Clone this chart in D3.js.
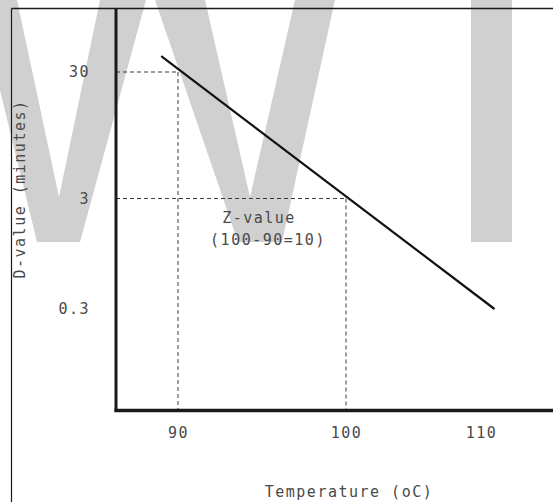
<!DOCTYPE html>
<html>
<head>
<meta charset="utf-8">
<script src="https://cdn.jsdelivr.net/npm/d3@7"></script>
<style>
  html, body { margin: 0; padding: 0; background: #fff; }
  svg { display: block; }
  text {
    font-family: "DejaVu Sans Mono", monospace;
    font-size: 15px;
    fill: #4a4a4a;
    letter-spacing: 1.5px;
  }
</style>
</head>
<body>
<script>
// Thermal death time curve: D-value against temperature, with the Z-value example
const tempTicks = [90, 100, 110];
const dTicks = [30, 3, 0.3];
const dTickLabels = ["30", "3", "0.3"];
const lineTemps = [89, 111];
const lineD = [40, 0.3];
const refTemps = [90, 100];
const refD = [30, 3];
const xTitle = "Temperature (oC)";
const yTitle = "D-value (minutes)";
const noteLines = ["Z-value", "(100-90=10)"];

const W = 553, H = 502;
const frame = { left: 11.5, top: 8.5 };
const origin = { x: 116, y: 410.5 };

const svg = d3.select("body").append("svg")
  .attr("width", W).attr("height", H);

// background watermark letters
const watermark = [
  "M-22,0 L17,0 L59,197 L100,0 L146,0 L80,242 L37,242 Z",
  "M155,0 L205,0 L250,197 L295,0 L335,0 L282,242 L238,242 Z",
  "M471,0 L512,0 L512,242 L471,242 Z"
];
svg.append("g").selectAll("path").data(watermark).join("path")
  .attr("d", d => d).attr("fill", "#d0d0d0");

// scales (piecewise so labelled temperatures/D-values sit where drawn)
const x = d3.scaleLinear().domain(tempTicks).range([178, 346, 481]);
const y = d3.scaleLog().domain(dTicks).range([72, 198.5, 309]);

// outer frame
svg.append("line")
  .attr("x1", frame.left).attr("x2", W)
  .attr("y1", frame.top).attr("y2", frame.top)
  .attr("stroke", "#1a1a1a").attr("stroke-width", 1.5);
svg.append("line")
  .attr("x1", frame.left).attr("x2", frame.left)
  .attr("y1", frame.top).attr("y2", H)
  .attr("stroke", "#1a1a1a").attr("stroke-width", 1.2);

// dashed guides for the Z-value example
const refPts = refTemps.map((t, i) => ({ t, d: refD[i] }));
const guides = svg.append("g")
  .attr("stroke", "#3a3a3a").attr("stroke-width", 1)
  .attr("stroke-dasharray", "4,3").attr("fill", "none");
guides.selectAll(".h").data(refPts).join("line")
  .attr("x1", origin.x).attr("x2", p => x(p.t))
  .attr("y1", p => y(p.d)).attr("y2", p => y(p.d));
guides.selectAll(".v").data(refPts).join("line")
  .attr("x1", p => x(p.t)).attr("x2", p => x(p.t))
  .attr("y1", p => y(p.d)).attr("y2", origin.y);

// survivor curve
const linePts = lineTemps.map((t, i) => ({ t, d: lineD[i] }));
svg.append("path")
  .datum(linePts)
  .attr("d", d3.line().x(p => x(p.t)).y(p => y(p.d)))
  .attr("fill", "none").attr("stroke", "#111").attr("stroke-width", 2.2);

// heavy axis lines
svg.append("line")
  .attr("x1", origin.x).attr("x2", origin.x)
  .attr("y1", frame.top).attr("y2", origin.y + 1.5)
  .attr("stroke", "#1a1a1a").attr("stroke-width", 3);
svg.append("line")
  .attr("x1", origin.x - 1.5).attr("x2", W)
  .attr("y1", origin.y).attr("y2", origin.y)
  .attr("stroke", "#1a1a1a").attr("stroke-width", 3.5);

// tick labels
const xAxis = svg.append("g")
  .attr("transform", `translate(0,${origin.y})`)
  .call(d3.axisBottom(x).tickValues(tempTicks).tickSize(0).tickPadding(17));
const yAxis = svg.append("g")
  .attr("transform", `translate(${origin.x},0)`)
  .call(d3.axisLeft(y).tickValues(dTicks)
    .tickFormat((d, i) => dTickLabels[i]).tickSize(0).tickPadding(26));
[xAxis, yAxis].forEach(g => {
  g.select(".domain").remove();
  g.attr("font-family", null).attr("font-size", null);
  g.selectAll("text").attr("fill", null);
});

// annotation
const noteX = (x(refTemps[0]) + x(refTemps[1])) / 2;
const noteDx = [-3, 6];
svg.append("g").selectAll("text").data(noteLines).join("text")
  .attr("x", (d, i) => noteX + noteDx[i])
  .attr("y", (d, i) => y(refD[1]) + 24 + i * 22)
  .attr("text-anchor", "middle")
  .text(d => d);

// axis titles
svg.append("text")
  .attr("x", 349).attr("y", 497)
  .attr("text-anchor", "middle")
  .text(xTitle);
svg.append("text")
  .attr("transform", "translate(25,189) rotate(-90)")
  .attr("text-anchor", "middle")
  .text(yTitle);
</script>
</body>
</html>
